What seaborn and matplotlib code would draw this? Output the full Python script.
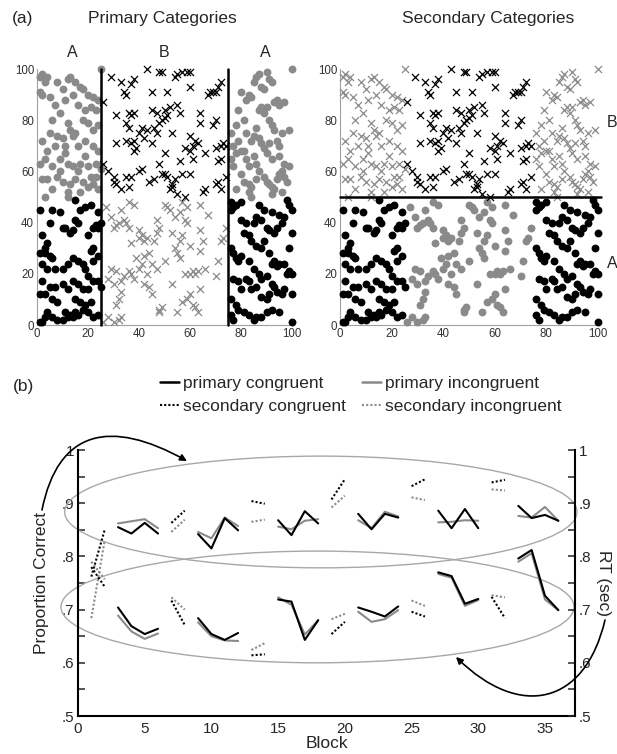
import numpy as np
import pandas as pd
import matplotlib
matplotlib.use("Agg")
import matplotlib.pyplot as plt
from matplotlib.patches import Ellipse, FancyArrowPatch
from matplotlib.path import Path
from matplotlib.lines import Line2D
import seaborn as sns

# ---------------- panel (a): stimulus points (x, y) ----------------
left_top = [(1,97),(2,98),(4,97),(3,95),(1,91),(2,90),(5,89),(8,95),(10,92),(12,96),(13,97),(15,95),
            (17,93),(18,92),(20,90),(22,89),(24,88),(25,100),(7,86),(11,88),(14,90),(16,86),(19,84),
            (21,85),(23,84),(6,80),(9,83),(12,79),(13,76),(15,75),(14,74),(10,73),(8,74),(5,75),(2,72),
            (18,80),(20,79),(22,76),(24,78),(7,70),(11,70),(16,70),(19,72),(22,70),(24,68),(3,65),(6,62),
            (9,65),(12,63),(14,62),(17,63),(20,62),(23,63),(25,61),(1,63),(2,57),(4,57),(8,58),(10,56),
            (13,55),(15,57),(18,56),(20,54),(22,55),(24,53),(6,53),(12,52),(17,52),(21,58),(23,58),
            (16,60),(19,66),(11,67),(4,68),(9,60)]
left_bottom = [(1,45),(3,50),(6,45),(9,44),(12,50),(15,49),(17,45),(19,46),(21,47),(24,44),(25,40),
               (24,38),(23,39),(22,38),(5,40),(11,38),(13,36),(14,37),(15,41),(16,40),(10,38),(2,35),
               (4,32),(3,30),(20,35),(22,30),(21,29),(24,27),(1,28),(3,28),(5,27),(6,26),(2,24),(4,22),
               (7,22),(10,22),(12,24),(14,26),(16,25),(18,24),(19,22),(20,19),(22,17),(24,17),(25,15),
               (2,17),(5,15),(7,15),(10,16),(12,14),(14,17),(16,16),(18,14),(20,14),(3,12),(6,10),(8,9),
               (15,10),(17,9),(19,8),(21,9),(1,12),(4,5),(6,3),(8,2),(10,2),(12,3),(13,4),(14,3),(15,5),
               (16,4),(18,6),(20,5),(22,3),(24,4),(1,1),(2,1),(3,3),(11,5),(22,25)]
mid_top = [(26,87),(29,97),(31,82),(33,95),(34,91),(35,90),(37,94),(38,96),(36,83),(37,82),(38,83),
           (35,79),(36,77),(35,72),(37,71),(38,72),(39,69),(38,68),(31,71),(26,63),(28,60),(30,58),
           (31,55),(33,53),(30,56),(35,58),(36,54),(37,58),(40,60),(41,61),(40,75),(42,73),(43,76),
           (41,77),(43,100),(46,77),(47,75),(48,79),(49,80),(50,81),(50,84),(52,85),(51,82),(48,99),
           (49,99),(45,91),(45,84),(47,83),(50,67),(48,63),(49,59),(50,59),(51,58),(46,57),(44,56),
           (52,53),(53,55),(54,57),(55,51),(53,54),(54,97),(55,98),(57,99),(59,99),(60,99),(51,91),
           (55,86),(56,83),(58,69),(60,68),(61,70),(60,74),(62,72),(61,65),(63,71),(60,93),(64,83),
           (64,79),(65,52),(66,53),(66,67),(67,90),(68,91),(69,91),(70,91),(71,93),(72,95),(69,78),
           (70,80),(70,69),(72,70),(73,71),(74,70),(71,64),(72,65),(70,55),(71,56),(72,53),(74,58),
           (56,64),(53,75),(57,59),(45,71),(60,59)]
mid_bottom = [(26,1),(28,3),(30,1),(32,2),(33,3),(31,8),(32,10),(33,13),(30,16),(28,18),(29,22),
              (31,21),(33,17),(34,19),(29,42),(30,38),(31,39),(27,46),(32,40),(33,45),(34,41),(35,40),
              (36,38),(37,32),(36,48),(38,47),(36,21),(37,20),(38,18),(39,26),(40,34),(41,35),(40,37),
              (42,33),(43,34),(41,24),(42,27),(43,20),(44,15),(45,12),(44,28),(46,33),(47,41),(47,36),
              (48,38),(47,22),(48,6),(49,7),(48,5),(50,47),(51,46),(52,45),(53,36),(54,30),(55,28),
              (56,26),(56,33),(57,35),(54,42),(56,44),(57,48),(58,50),(59,46),(58,41),(59,40),(60,31),
              (58,20),(60,20),(61,21),(62,20),(63,21),(57,9),(59,10),(60,12),(61,8),(62,7),(63,5),
              (64,14),(64,29),(65,33),(64,37),(64,47),(67,43),(66,22),(70,19),(71,25),(72,33),(73,34),
              (74,38),(53,16),(55,5),(45,24),(50,25),(40,22),(42,16)]
right_top = [(76,75),(77,70),(76,65),(77,62),(78,67),(79,72),(80,68),(78,78),(79,84),(80,91),(82,88),
             (81,80),(83,90),(84,89),(85,95),(86,97),(87,98),(88,93),(89,92),(90,99),(91,96),(92,95),
             (93,87),(94,88),(95,86),(97,87),(100,100),(88,85),(87,84),(89,83),(90,85),(91,80),(92,78),
             (93,76),(94,72),(95,70),(96,75),(99,76),(86,77),(85,74),(87,73),(88,71),(89,69),(90,67),
             (84,72),(83,62),(82,65),(81,68),(85,66),(86,63),(87,60),(89,58),(90,56),(91,55),(92,54),
             (93,53),(94,57),(95,59),(96,60),(97,58),(98,56),(99,62),(97,63),(92,65),(80,59),(81,56),
             (83,55),(84,54),(86,57),(78,53),(83,52),(92,51),(96,52),(82,75),(91,71),(95,66)]
right_bottom = [(76,48),(77,46),(78,47),(76,45),(80,48),(84,50),(87,47),(89,45),(92,44),(95,43),
                (98,49),(99,47),(100,45),(97,42),(96,40),(94,38),(93,36),(91,37),(90,38),(88,41),
                (86,42),(85,40),(82,40),(80,41),(81,36),(83,35),(84,33),(86,31),(88,30),(89,33),
                (91,28),(92,24),(93,25),(94,23),(95,24),(97,24),(100,36),(99,30),(98,20),(99,21),
                (100,20),(76,30),(77,28),(78,26),(79,25),(80,27),(83,25),(85,22),(87,20),(88,18),
                (90,19),(92,16),(93,15),(94,13),(96,12),(97,14),(100,12),(77,18),(79,17),(80,14),
                (82,18),(83,17),(84,14),(86,15),(88,11),(90,10),(91,12),(76,10),(78,8),(79,6),(81,5),
                (83,4),(85,2),(86,3),(88,3),(90,5),(92,6),(95,5),(100,1),(76,4),(77,2)]

# ---------------- panel (b): block data ----------------
blocks_primary = [3,4,5,6, 9,10,11,12, 15,16,17,18, 21,22,23,24, 27,28,29,30, 33,34,35,36]
blocks_secondary = [1,2, 7,8, 13,14, 19,20, 25,26, 31,32]

acc_primary_cong = [0.855,0.843,0.863,0.843, 0.842,0.815,0.872,0.849, 0.868,0.840,0.885,0.862,
                    0.880,0.851,0.880,0.873, 0.886,0.853,0.889,0.853, 0.895,0.872,0.878,0.867]
acc_primary_incong = [0.862,0.866,0.870,0.853, 0.846,0.834,0.873,0.857, 0.856,0.851,0.867,0.870,
                      0.868,0.853,0.884,0.875, 0.864,0.865,0.868,0.867, 0.876,0.873,0.893,0.867]
acc_secondary_cong = [0.762,0.850, 0.863,0.886, 0.904,0.899, 0.907,0.945, 0.932,0.945, 0.939,0.944]
acc_secondary_incong = [0.684,0.830, 0.846,0.869, 0.865,0.869, 0.892,0.914, 0.911,0.906, 0.926,0.924]

rt_primary_cong = [0.704,0.669,0.654,0.664, 0.684,0.654,0.643,0.656, 0.719,0.715,0.643,0.680,
                   0.704,0.696,0.687,0.706, 0.770,0.763,0.711,0.720, 0.796,0.812,0.726,0.699]
rt_primary_incong = [0.689,0.659,0.645,0.655, 0.676,0.650,0.642,0.641, 0.723,0.709,0.653,0.680,
                     0.696,0.677,0.682,0.699, 0.767,0.760,0.707,0.718, 0.790,0.806,0.719,0.699]
rt_secondary_cong = [0.780,0.743, 0.717,0.671, 0.614,0.616, 0.654,0.677, 0.696,0.687, 0.724,0.684]
rt_secondary_incong = [0.790,0.757, 0.723,0.700, 0.624,0.637, 0.682,0.692, 0.717,0.707, 0.727,0.723]

BLACK = "#000000"
GRAY = "#8a8a8a"

sns.set_style("white")
plt.rcParams["font.family"] = ["Liberation Sans", "DejaVu Sans"]

W, H = 617, 754
fig = plt.figure(figsize=(W / 100, H / 100), dpi=100)


def fx(px):
    return px / W


def fy(py):
    return 1 - py / H


# build point table
rows = []
for name, pts in [("left", left_top), ("left", left_bottom), ("mid", mid_top),
                  ("mid", mid_bottom), ("right", right_top), ("right", right_bottom)]:
    for x, y in pts:
        outer = name != "mid"
        congruent = (outer and y < 50) or ((not outer) and y >= 50)
        rows.append({"x": x, "y": y,
                     "col": "k" if congruent else "g",
                     "prim": "o" if outer else "x",
                     "sec": "x" if y >= 50 else "o"})
pts_df = pd.DataFrame(rows)

ax1 = fig.add_axes([fx(37), fy(325), fx(292) - fx(37), fy(69) - fy(325)])
ax2 = fig.add_axes([fx(340), fy(325), fx(598) - fx(340), fy(69) - fy(325)])

for ax, mcol in [(ax1, "prim"), (ax2, "sec")]:
    for col, c in [("g", GRAY), ("k", BLACK)]:
        sub = pts_df[(pts_df["col"] == col) & (pts_df[mcol] == "o")]
        sns.scatterplot(data=sub, x="x", y="y", ax=ax, marker="o", s=32, color=c,
                        linewidth=0, legend=False, clip_on=False, zorder=3)
        sub = pts_df[(pts_df["col"] == col) & (pts_df[mcol] == "x")]
        sns.scatterplot(data=sub, x="x", y="y", ax=ax, marker="x", s=26, color=c,
                        linewidth=0.9, legend=False, clip_on=False, zorder=3)
    ax.set_xlim(0, 100)
    ax.set_ylim(0, 100)
    ax.set_xticks(range(0, 101, 20))
    ax.set_yticks(range(0, 101, 20))
    ax.set_xlabel("")
    ax.set_ylabel("")
    for s in ["top", "right"]:
        ax.spines[s].set_visible(False)
    for s in ["left", "bottom"]:
        ax.spines[s].set_color("#a0a0a0")
        ax.spines[s].set_linewidth(0.8)
    ax.tick_params(labelsize=8.3, colors="#a0a0a0", labelcolor="#333333",
                   direction="in", length=2.5, width=0.6, pad=2)

# category boundaries
ax1.plot([25, 25], [0, 100], color=BLACK, lw=1.8, zorder=4, clip_on=False)
ax1.plot([75, 75], [0, 100], color=BLACK, lw=1.8, zorder=4, clip_on=False)
ax2.plot([0, 101], [50, 50], color=BLACK, lw=1.8, zorder=4, clip_on=False)

for x, t in [(13.7, "A"), (49.8, "B"), (89.4, "A")]:
    ax1.text(x, 106.5, t, ha="center", va="center", fontsize=11.5, clip_on=False)
for y, t in [(79, "B"), (24, "A")]:
    ax2.text(105.5, y, t, ha="center", va="center", fontsize=11.5, clip_on=False)

fig.text(fx(12), fy(18), "(a)", ha="left", va="center", fontsize=12.5)
fig.text(fx(162), fy(18), "Primary Categories", ha="center", va="center", fontsize=12.5)
fig.text(fx(488), fy(18), "Secondary Categories", ha="center", va="center", fontsize=12.5)
fig.text(fx(13), fy(386), "(b)", ha="left", va="center", fontsize=12.5)

# ---------------- panel (b) ----------------
def seg_frame(blocks, vals, first):
    return pd.DataFrame({"block": blocks, "value": vals,
                         "seg": [(b - first) // 6 for b in blocks]})


axb = fig.add_axes([fx(78), fy(716), fx(575) - fx(78), fy(450) - fy(716)])
axr = axb.twinx()

DOT = (0, (1, 1))
series = [
    (axb, blocks_primary, acc_primary_incong, 3, GRAY, "-"),
    (axb, blocks_primary, acc_primary_cong, 3, BLACK, "-"),
    (axb, blocks_secondary, acc_secondary_incong, 1, GRAY, DOT),
    (axb, blocks_secondary, acc_secondary_cong, 1, BLACK, DOT),
    (axr, blocks_primary, rt_primary_incong, 3, GRAY, "-"),
    (axr, blocks_primary, rt_primary_cong, 3, BLACK, "-"),
    (axr, blocks_secondary, rt_secondary_incong, 1, GRAY, DOT),
    (axr, blocks_secondary, rt_secondary_cong, 1, BLACK, DOT),
]
for ax, bl, vals, first, c, ls in series:
    d = seg_frame(bl, vals, first)
    sns.lineplot(data=d, x="block", y="value", units="seg", estimator=None, ax=ax,
                 color=c, linestyle=ls, lw=1.5, legend=False)

for ax in (axb, axr):
    ax.set_xlim(0, 37.25)
    ax.set_ylim(0.5, 1.0)
    ax.set_yticks([0.5, 0.6, 0.7, 0.8, 0.9, 1.0])
    ax.set_yticklabels([".5", ".6", ".7", ".8", ".9", "1"])
    ax.set_yticks([0.55, 0.65, 0.75, 0.85, 0.95], minor=True)
    ax.tick_params(axis="y", which="both", direction="in", length=5, width=1.1,
                   labelsize=11, pad=2.5)
    ax.spines["top"].set_visible(False)
    for s in ax.spines.values():
        s.set_linewidth(1.5)
        s.set_color(BLACK)
axb.spines["right"].set_visible(False)
axr.spines["left"].set_visible(False)
axr.spines["bottom"].set_visible(False)
axb.set_xticks(range(0, 36, 5))
axb.tick_params(axis="x", direction="in", length=5, width=1.1, labelsize=11, pad=4)

axb.set_xlabel("Block", fontsize=12.5)
axb.set_ylabel("Proportion Correct", fontsize=12.5)
axr.set_ylabel("RT (sec)", fontsize=12.5, rotation=270, va="bottom")
axb.xaxis.set_label_coords(0.5, -0.075)
axb.yaxis.set_label_coords(-0.058, 0.5)
axr.yaxis.set_label_coords(1.043, 0.5)

# grouping ellipses
for cx, cy, w, h in [(18.2, 0.8835, 38.4, 0.21), (17.95, 0.705, 38.45, 0.21)]:
    axb.add_patch(Ellipse((cx, cy), w, h, fill=False, ec="#a8a8a8", lw=1.0, clip_on=False))

# curved arrows
for pts in [[(42, 510), (58, 430), (110, 418), (187, 461)],
            [(605, 620), (585, 705), (520, 720), (456, 657)]]:
    path = Path([(fx(x), fy(y)) for x, y in pts],
                [Path.MOVETO, Path.CURVE4, Path.CURVE4, Path.CURVE4])
    fig.add_artist(FancyArrowPatch(path=path, arrowstyle="-|>", mutation_scale=10,
                                   lw=1.2, color=BLACK, transform=fig.transFigure))

handles = [Line2D([], [], color=BLACK, lw=1.8, ls="-"),
           Line2D([], [], color=BLACK, lw=1.5, ls=DOT),
           Line2D([], [], color=GRAY, lw=1.8, ls="-"),
           Line2D([], [], color=GRAY, lw=1.5, ls=DOT)]
labels = ["primary congruent", "secondary congruent",
          "primary incongruent", "secondary incongruent"]
fig.legend(handles, labels, ncol=2, frameon=False, fontsize=12.5, loc="upper left",
           bbox_to_anchor=(fx(160), fy(376)), borderpad=0, borderaxespad=0,
           handlelength=1.1, handletextpad=0.25, columnspacing=0.9, labelspacing=0.45)

fig.savefig("out.png", dpi=100)
